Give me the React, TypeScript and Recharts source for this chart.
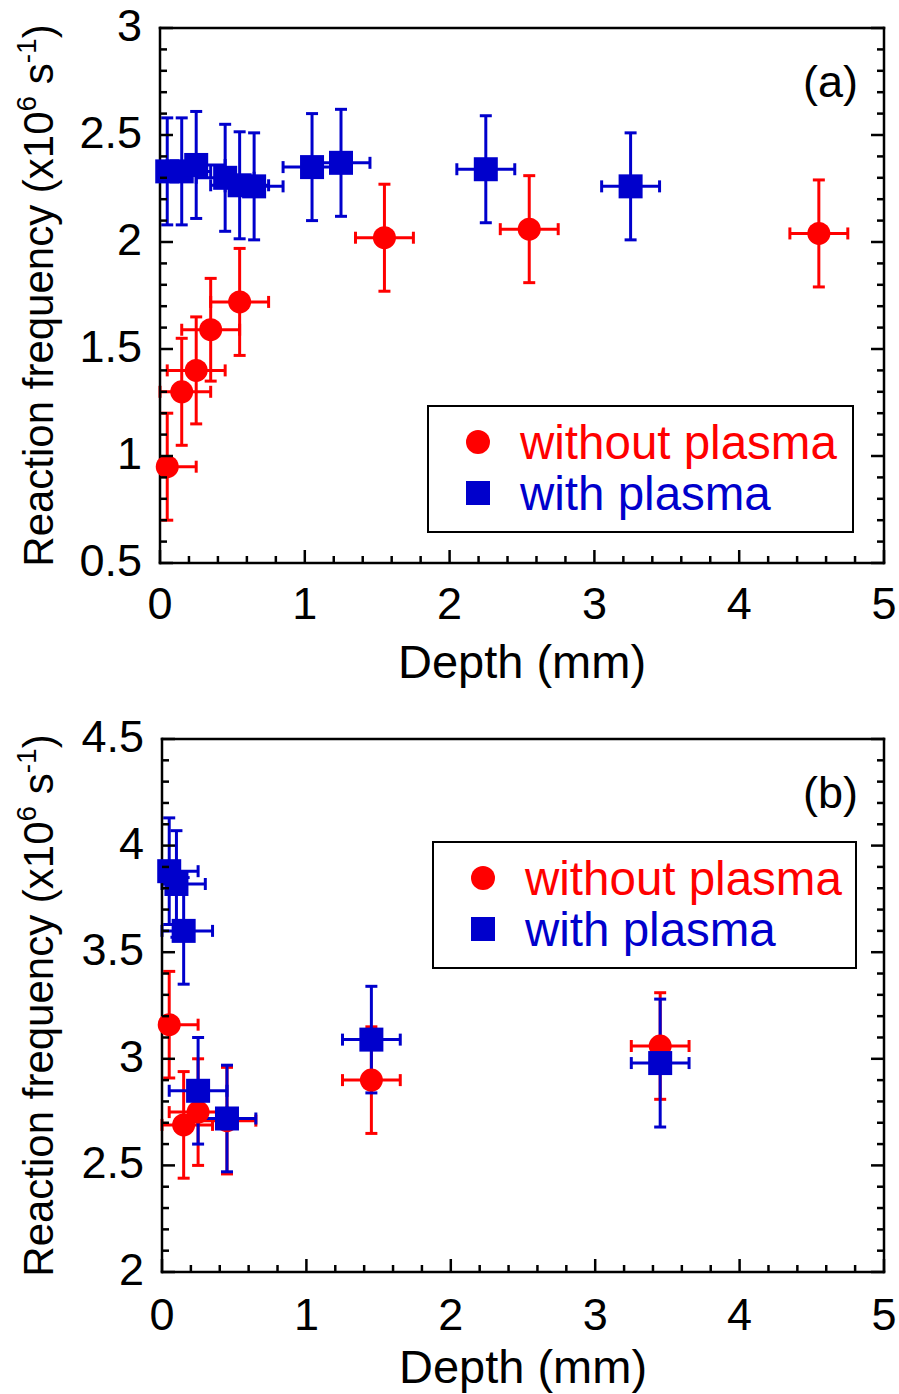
import React from 'react';
import { ScatterChart, Scatter, XAxis, YAxis, ErrorBar, Legend } from 'recharts';

const RED = '#ff0000';
const BLUE = '#0000cc';
const FONT = '"Liberation Sans", Arial, Helvetica, sans-serif';

const seriesNames = ['without plasma', 'with plasma'];

// ---- panel (a) ----
const depthWithoutA = [0.05, 0.15, 0.25, 0.35, 0.55, 1.55, 2.55, 4.55];
const freqWithoutA = [0.95, 1.3, 1.4, 1.59, 1.72, 2.02, 2.06, 2.04];
const depthErrWithoutA = [[0.05, 0.2], [0.15, 0.2], 0.2, 0.2, 0.2, 0.2, 0.2, 0.2];
const freqErrWithoutA = [0.25, 0.25, 0.25, 0.24, 0.25, 0.25, 0.25, 0.25];

const depthWithA = [0.05, 0.15, 0.25, 0.45, 0.55, 0.65, 1.05, 1.25, 2.25, 3.25];
const freqWithA = [2.33, 2.33, 2.36, 2.3, 2.265, 2.26, 2.35, 2.37, 2.34, 2.26];
const depthErrWithA = [[0.05, 0.2], [0.15, 0.2], 0.2, 0.2, 0.2, 0.2, 0.2, 0.2, 0.2, 0.2];
const freqErrWithA = [0.25, 0.25, 0.25, 0.25, 0.25, 0.25, 0.25, 0.25, 0.25, 0.25];

// ---- panel (b) ----
const depthWithoutB = [0.05, 0.15, 0.25, 0.45, 1.45, 3.45];
const freqWithoutB = [3.16, 2.69, 2.75, 2.71, 2.9, 3.06];
const depthErrWithoutB = [[0.05, 0.2], [0.15, 0.2], 0.2, 0.2, 0.2, 0.2];
const freqErrWithoutB = [0.25, 0.25, 0.25, 0.25, 0.25, 0.25];

const depthWithB = [0.05, 0.1, 0.15, 0.25, 0.45, 1.45, 3.45];
const freqWithB = [3.88, 3.82, 3.6, 2.85, 2.72, 3.09, 2.98];
const depthErrWithB = [[0.05, 0.2], [0.1, 0.2], [0.15, 0.2], 0.2, 0.2, 0.2, 0.2];
const freqErrWithB = [0.25, 0.25, 0.25, 0.25, 0.25, 0.25, 0.3];

// axis ticks
const depthMajor = [0, 1, 2, 3, 4, 5];
const freqMajorA = [0.5, 1, 1.5, 2, 2.5, 3];
const freqMajorB = [2, 2.5, 3, 3.5, 4, 4.5];

function rows(xs: number[], ys: number[], exs: any[], eys: number[]) {
  return xs.map((x, i) => ({ x, y: ys[i], ex: exs[i], ey: eys[i] }));
}

// major ticks plus evenly spaced minor ticks between them
function withMinor(majors: number[], parts: number) {
  const out: number[] = [];
  for (let i = 0; i < majors.length - 1; i++) {
    for (let k = 0; k < parts; k++) out.push(majors[i] + ((majors[i + 1] - majors[i]) * k) / parts);
  }
  out.push(majors[majors.length - 1]);
  return out;
}

const isMajor = (majors: number[], v: number) => majors.some((m) => Math.abs(m - v) < 1e-6);

type Side = 'bottom' | 'top' | 'left' | 'right';

function makeTick(side: Side, majors: number[], labelGap = 0) {
  return (props: any) => {
    const { x, y, payload } = props;
    const v = payload.value;
    const major = isMajor(majors, v);
    const len = major ? 13 : 7;
    let line;
    if (side === 'bottom') line = <line x1={x} x2={x} y1={y} y2={y - len} />;
    else if (side === 'top') line = <line x1={x} x2={x} y1={y} y2={y + len} />;
    else if (side === 'left') line = <line x1={x} x2={x + len} y1={y} y2={y} />;
    else line = <line x1={x} x2={x - len} y1={y} y2={y} />;
    let label = null;
    if (major && side === 'bottom') {
      label = (
        <text x={x} y={y + labelGap} textAnchor="middle" fontSize={45} fill="#000" stroke="none" fontFamily={FONT}>
          {String(v)}
        </text>
      );
    } else if (major && side === 'left') {
      label = (
        <text x={x - 18} y={y + 13} textAnchor="end" fontSize={45} fill="#000" stroke="none" fontFamily={FONT}>
          {String(v)}
        </text>
      );
    }
    return (
      <g>
        <g stroke="#000" strokeWidth={2.5}>{line}</g>
        {label}
      </g>
    );
  };
}

const frame = { stroke: '#000', strokeWidth: 2.5, strokeLinecap: 'square' as const };

function LegendBox(w: number, h: number) {
  return (props: any) => {
    const items = [...(props.payload || [])].sort(
      (a: any, b: any) => seriesNames.indexOf(a.value) - seriesNames.indexOf(b.value)
    );
    return (
      <svg width={w} height={h} style={{ display: 'block' }}>
        <rect x={1} y={1} width={w - 2} height={h - 2} fill="#fff" stroke="#000" strokeWidth={2} />
        {items.map((it: any, i: number) => {
          const cy = 37 + i * 51;
          return (
            <g key={it.value}>
              {it.type === 'square' ? (
                <rect x={51 - 12} y={cy - 12} width={24} height={24} fill={it.color} />
              ) : (
                <circle cx={51} cy={cy} r={12} fill={it.color} />
              )}
              <text x={93} y={cy + 17} fontSize={47.5} fill={it.color} fontFamily={FONT}>
                {it.value}
              </text>
            </g>
          );
        })}
      </svg>
    );
  };
}

const yTitle = (props: any) => {
  const vb = props.viewBox || { x: 0, y: 0, height: 0 };
  const cx = vb.x + 53;
  const cy = vb.y + vb.height / 2;
  return (
    <text
      x={cx}
      y={cy}
      transform={`rotate(-90, ${cx}, ${cy})`}
      textAnchor="middle"
      fontSize={42}
      fill="#000"
      fontFamily={FONT}
    >
      Reaction frequency (x10
      <tspan dy={-17} fontSize={28}>6</tspan>
      <tspan dy={17}> s</tspan>
      <tspan dy={-17} fontSize={28}>-1</tspan>
      <tspan dy={17}>)</tspan>
    </text>
  );
};

interface PanelProps {
  tag: string;
  height: number;
  plotLeft: number;
  plotTop: number;
  plotHeight: number;
  freqMajor: number[];
  without: any[];
  withP: any[];
  tickGap: number;
  titleGap: number;
  legendPos: { left: number; top: number; width: number; height: number };
}

function Panel(p: PanelProps) {
  const depthTicks = withMinor(depthMajor, 5);
  const freqTicks = withMinor(p.freqMajor, 5);
  const fDomain = [p.freqMajor[0], p.freqMajor[p.freqMajor.length - 1]];
  const xAxisHeight = p.height - p.plotTop - p.plotHeight;
  return (
    <ScatterChart
      width={899}
      height={p.height}
      margin={{ top: p.plotTop - 1, right: 14, bottom: 0, left: 0 }}
      style={{ fontFamily: FONT }}
    >
      <XAxis
        type="number"
        dataKey="x"
        domain={[0, 5]}
        ticks={depthTicks}
        interval={0}
        height={xAxisHeight}
        tickSize={0}
        tickMargin={0}
        tickLine={false}
        axisLine={frame}
        tick={makeTick('bottom', depthMajor, p.tickGap)}
        label={(lp: any) => {
          const vb = lp.viewBox;
          return (
            <text x={vb.x + vb.width / 2} y={vb.y + p.titleGap} textAnchor="middle" fontSize={47} fill="#000" fontFamily={FONT}>
              Depth (mm)
            </text>
          );
        }}
      />
      <XAxis
        xAxisId="top"
        orientation="top"
        type="number"
        domain={[0, 5]}
        allowDataOverflow
        ticks={depthTicks}
        interval={0}
        height={1}
        tickSize={0}
        tickMargin={0}
        tickLine={false}
        axisLine={frame}
        tick={makeTick('top', depthMajor)}
      />
      <YAxis
        type="number"
        dataKey="y"
        domain={fDomain}
        ticks={freqTicks}
        interval={0}
        width={p.plotLeft}
        tickSize={0}
        tickMargin={0}
        tickLine={false}
        axisLine={frame}
        tick={makeTick('left', p.freqMajor)}
        label={yTitle}
      />
      <YAxis
        yAxisId="right"
        orientation="right"
        type="number"
        domain={fDomain}
        allowDataOverflow
        ticks={freqTicks}
        interval={0}
        width={1}
        tickSize={0}
        tickMargin={0}
        tickLine={false}
        axisLine={frame}
        tick={makeTick('right', p.freqMajor)}
        label={(lp: any) => {
          const vb = lp.viewBox;
          return (
            <text x={vb.x - 26} y={vb.y + 69} textAnchor="end" fontSize={45} fill="#000" fontFamily={FONT}>
              {p.tag}
            </text>
          );
        }}
      />
      <Legend
        layout="vertical"
        align="center"
        verticalAlign="middle"
        content={LegendBox(p.legendPos.width, p.legendPos.height)}
        wrapperStyle={{ position: 'absolute', ...p.legendPos }}
      />
      <Scatter
        name="without plasma"
        data={p.without}
        fill={RED}
        legendType="circle"
        isAnimationActive={false}
        shape={(s: any) => <circle cx={s.cx} cy={s.cy} r={11.5} fill={RED} />}
      >
        <ErrorBar dataKey="ex" direction="x" width={6} stroke={RED} strokeWidth={3} />
        <ErrorBar dataKey="ey" direction="y" width={6} stroke={RED} strokeWidth={3} />
      </Scatter>
      <Scatter
        name="with plasma"
        data={p.withP}
        fill={BLUE}
        legendType="square"
        isAnimationActive={false}
        shape={(s: any) => <rect x={s.cx - 12} y={s.cy - 12} width={24} height={24} fill={BLUE} />}
      >
        <ErrorBar dataKey="ex" direction="x" width={6} stroke={BLUE} strokeWidth={3} />
        <ErrorBar dataKey="ey" direction="y" width={6} stroke={BLUE} strokeWidth={3} />
      </Scatter>
    </ScatterChart>
  );
}

export default function App() {
  return (
    <div style={{ position: 'absolute', left: 0, top: 0, width: 899, height: 1394, background: '#fff' }}>
      <Panel
        tag="(a)"
        height={700}
        plotLeft={160}
        plotTop={28}
        plotHeight={535}
        freqMajor={freqMajorA}
        without={rows(depthWithoutA, freqWithoutA, depthErrWithoutA, freqErrWithoutA)}
        withP={rows(depthWithA, freqWithA, depthErrWithA, freqErrWithA)}
        tickGap={56}
        titleGap={115}
        legendPos={{ left: 427, top: 405, width: 427, height: 128 }}
      />
      <Panel
        tag="(b)"
        height={694}
        plotLeft={162}
        plotTop={39}
        plotHeight={533}
        freqMajor={freqMajorB}
        without={rows(depthWithoutB, freqWithoutB, depthErrWithoutB, freqErrWithoutB)}
        withP={rows(depthWithB, freqWithB, depthErrWithB, freqErrWithB)}
        tickGap={58}
        titleGap={111}
        legendPos={{ left: 432, top: 141, width: 425, height: 128 }}
      />
    </div>
  );
}
